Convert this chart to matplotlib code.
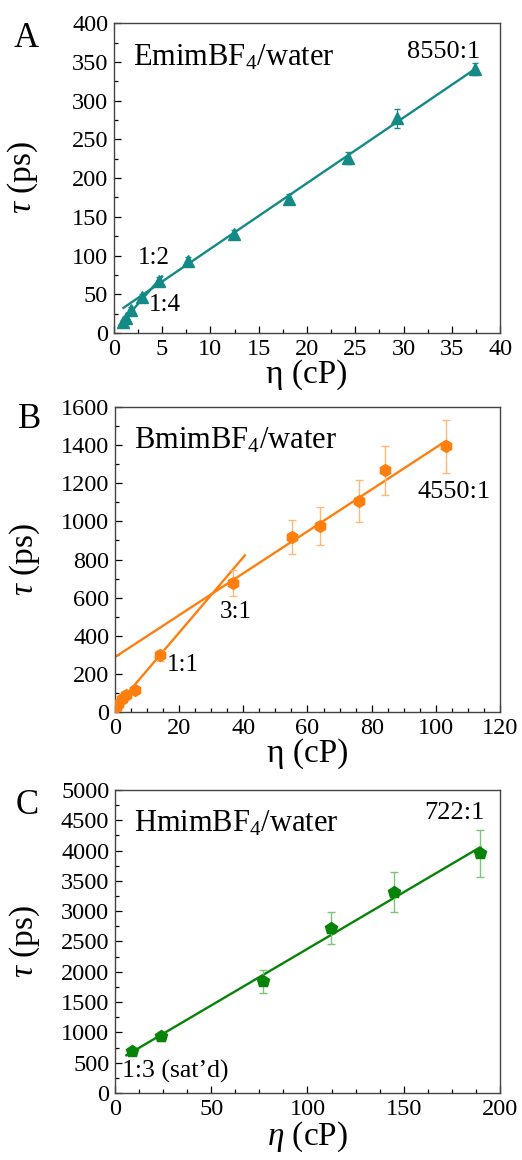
import matplotlib
matplotlib.use('Agg')
import matplotlib.pyplot as plt
from matplotlib.ticker import MultipleLocator
import numpy as np

plt.rcParams['font.family'] = ['Liberation Serif', 'DejaVu Serif']
plt.rcParams['mathtext.fontset'] = 'custom'
plt.rcParams['mathtext.rm'] = 'Liberation Serif'
plt.rcParams['mathtext.it'] = 'Liberation Serif:italic'

## EmimBF4 / water
eta_A = [1.0, 1.3, 1.8, 2.9, 4.7, 7.7, 12.4, 18.1, 24.3, 29.3, 37.4]
tau_A = [14, 19, 30, 46, 67, 93, 128, 173, 226, 277, 341]
err_A = [3, 3, 4, 4, 5, 5, 5, 7, 8, 12, 8]

## BmimBF4 / water
eta_B = [0.5, 1.0, 2.1, 3.4, 6.4, 14.0, 36.8, 55.3, 64.0, 76.2, 84.0, 103.2]
tau_B = [26, 44, 70, 87, 117, 297, 677, 918, 976, 1107, 1268, 1394]
err_B = [5, 8, 10, 10, 15, 30, 70, 90, 100, 110, 127, 140]

## HmimBF4 / water
eta_C = [9.0, 23.9, 76.9, 112.4, 144.9, 189.8]
tau_C = [690, 934, 1841, 2720, 3324, 3956]
err_C = [40, 80, 190, 270, 330, 390]

c_A = '#148a86'
c_B = '#ff7f0e'
c_C = '#078407'

fig = plt.figure(figsize=(5.22, 11.6), dpi=100)
axA = fig.add_axes([0.218, 0.7129, 0.740, 0.2671])
axB = fig.add_axes([0.220, 0.3862, 0.738, 0.2629])
axC = fig.add_axes([0.220, 0.0578, 0.738, 0.2612])


def fitline(ax, x, y, idx, xr, col):
    xs = np.array(x)[idx]
    ys = np.array(y)[idx]
    p = np.polyfit(xs, ys, 1)
    xx = np.array(xr)
    ax.plot(xx, np.polyval(p, xx), '-', color=col, lw=1.7, zorder=2)


def style(ax, xlim, ylim, xmaj, xmin, ymaj, ymin):
    ax.set_xlim(*xlim)
    ax.set_ylim(*ylim)
    ax.xaxis.set_major_locator(MultipleLocator(xmaj))
    ax.xaxis.set_minor_locator(MultipleLocator(xmin))
    ax.yaxis.set_major_locator(MultipleLocator(ymaj))
    ax.yaxis.set_minor_locator(MultipleLocator(ymin))
    ax.tick_params(which='both', direction='in', top=False, right=False, labelsize=17.5, pad=4)
    ax.tick_params(which='major', length=5, width=0.9)
    ax.tick_params(which='minor', length=3, width=0.9)
    for s in ax.spines.values():
        s.set_color('#444444')
        s.set_linewidth(1.0)
    ax.yaxis.set_label_coords(-0.19, 0.5)


# A
axA.errorbar(eta_A, tau_A, yerr=err_A, fmt='^', color=c_A, ms=8.5, ecolor=c_A, elinewidth=0.8,
             capsize=2.5, zorder=3)
fitline(axA, eta_A, tau_A, slice(3, None), [1.0, 37.4], c_A)
fitline(axA, eta_A, tau_A, slice(0, 5), [0.6, 5.0], c_A)
style(axA, (0, 40), (0, 400), 5, 2.5, 50, 25)
axA.set_xlabel('η (cP)', fontsize=24, labelpad=0)
axA.set_ylabel(r'$\tau$ (ps)', fontsize=24)
axA.text(0.05, 0.89, r'EmimBF$_4$/water', transform=axA.transAxes, fontsize=22, va='center')
axA.text(0.948, 0.906, '8550:1', transform=axA.transAxes, fontsize=19, va='center', ha='right')
axA.text(4.1, 97, '1:2', fontsize=18, ha='center', va='center')
axA.text(5.3, 36, '1:4', fontsize=18, ha='center', va='center')

# B
axB.errorbar(eta_B, tau_B, yerr=err_B, fmt='h', color=c_B, ms=8.5, ecolor='#ffb878', elinewidth=1.0,
             capsize=3, zorder=3)
fitline(axB, eta_B, tau_B, [0, 1, 5], [0.0, 40.5], c_B)
fitline(axB, eta_B, tau_B, slice(6, None), [0.0, 103.2], c_B)
style(axB, (0, 120), (0, 1600), 20, 5, 200, 100)
axB.set_xlabel('η (cP)', fontsize=24, labelpad=0)
axB.set_ylabel(r'$\tau$ (ps)', fontsize=24)
axB.text(0.05, 0.89, r'BmimBF$_4$/water', transform=axB.transAxes, fontsize=22, va='center')
axB.text(105.6, 1154, '4550:1', fontsize=19, ha='center', va='center')
axB.text(37.7, 525, '3:1', fontsize=18, ha='center', va='center')
axB.text(21.1, 247, '1:1', fontsize=18, ha='center', va='center')

# C
axC.errorbar(eta_C, tau_C, yerr=err_C, fmt='p', color=c_C, ms=9, ecolor='#7cc47c', elinewidth=1.0,
             capsize=3, zorder=3)
fitline(axC, eta_C, tau_C, slice(0, None), [6.0, 189.8], c_C)
style(axC, (0, 200), (0, 5000), 50, 12.5, 500, 250)
axC.set_xlabel(r'$\eta$ (cP)', fontsize=24, labelpad=0)
axC.set_ylabel(r'$\tau$ (ps)', fontsize=24)
axC.text(0.05, 0.89, r'HmimBF$_4$/water', transform=axC.transAxes, fontsize=22, va='center')
axC.text(192.2, 4620, '722:1', fontsize=19, ha='right', va='center')
axC.text(3.6, 347, '1:3 (sat\u2019d)', fontsize=18.5, ha='left', va='center')

fig.text(0.026, 0.967, 'A', fontsize=25, va='center')
fig.text(0.034, 0.638, 'B', fontsize=25, va='center')
fig.text(0.029, 0.306, 'C', fontsize=25, va='center')

fig.savefig('out.png', dpi=100)
